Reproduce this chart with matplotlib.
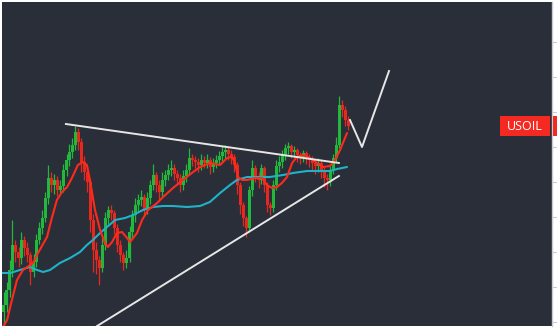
import matplotlib
matplotlib.use("Agg")
import matplotlib.pyplot as plt
import numpy as np
from matplotlib.patches import Rectangle
import matplotlib.transforms as mtransforms

# ---- data (price units) ----
closes = [17, 32, 52, 77, 70, 64, 82, 74, 67, 50, 60, 82, 94, 104, 124, 144, 137, 142, 132, 136,
          152, 162, 170, 177, 190, 180, 160, 150, 140, 102, 72, 62, 54, 77, 104, 112, 109, 94, 77, 67,
          59, 64, 90, 107, 117, 122, 125, 112, 124, 137, 147, 137, 130, 142, 147, 152, 154, 148, 144, 137,
          146, 152, 164, 162, 160, 157, 162, 159, 162, 155, 159, 162, 166, 170, 172, 168, 165, 157, 137, 117,
          104, 94, 132, 154, 146, 142, 154, 137, 117, 114, 137, 156, 160, 167, 174, 176, 170, 172, 167, 165,
          169, 165, 162, 159, 156, 159, 152, 144, 142, 152, 164, 177, 217, 212, 202, 196]
first_open = 10
highs = [30, 40, 62, 102, 82, 75, 90, 86, 80, 70, 68, 88, 100, 112, 130, 157, 150, 148, 146, 142,
         158, 168, 178, 184, 196, 194, 184, 166, 156, 144, 108, 80, 66, 84, 110, 116, 117, 112, 98, 82,
         70, 72, 96, 112, 124, 128, 132, 128, 130, 142, 158, 150, 142, 150, 152, 158, 162, 158, 152, 148,
         152, 158, 174, 168, 166, 164, 168, 166, 168, 165, 164, 167, 171, 176, 177, 175, 172, 168, 160, 140,
         120, 106, 136, 162, 157, 150, 158, 156, 140, 120, 142, 162, 166, 172, 178, 180, 178, 176, 174, 170,
         172, 171, 168, 166, 162, 164, 162, 155, 148, 156, 168, 185, 226, 222, 216, 206]
lows = [-5, 10, 25, 45, 60, 55, 58, 66, 60, 37, 45, 55, 78, 88, 100, 118, 130, 128, 126, 128,
        130, 146, 156, 164, 172, 172, 150, 142, 130, 90, 50, 48, 37, 50, 72, 98, 102, 88, 70, 60,
        52, 54, 60, 84, 100, 110, 116, 106, 108, 118, 132, 130, 122, 126, 136, 142, 146, 142, 138, 130,
        132, 140, 148, 156, 154, 150, 152, 154, 154, 148, 150, 154, 158, 160, 164, 162, 158, 150, 128, 108,
        96, 85, 90, 126, 140, 134, 138, 130, 110, 107, 110, 132, 150, 154, 162, 168, 164, 165, 160, 158,
        160, 158, 155, 152, 148, 150, 144, 135, 132, 136, 148, 160, 174, 205, 196, 192]

# fast moving average (red)
fast_ma_x = [-0.2, 1.2, 2.8, 4.5, 6.5, 9.8, 11.5, 14.5, 16.2, 17.8, 19.5, 21.2, 22.8, 24.8, 26.5, 27.8,
             28.8, 30.5, 32.2, 33.8, 34.8, 36.2, 37.8, 39.5, 41.2, 42.2, 44.5, 46.2, 48.2, 51.2, 53.2,
             56.5, 59.8, 63.2, 65.5, 68.8, 72.2, 74.5, 76.2, 77.2, 78.2, 79.5, 81.2, 83.8, 86.2, 87.8,
             89.5, 91.2, 92.8, 94.5, 96.2, 97.8, 99.8, 102.2, 104.5, 106.5, 108.8, 110.5, 112.2, 114.5]
fast_ma_v = [-5, 2, 22, 42, 52, 59, 69, 85, 105, 122, 130, 135, 144, 157, 160, 157,
             142, 112, 92, 79, 75, 80, 89, 90, 84, 80, 89, 102, 112, 119, 125,
             134, 142, 150, 155, 159, 157, 164, 165, 159, 145, 142, 142, 144, 144, 137,
             134, 135, 139, 145, 159, 165, 167, 164, 159, 155, 156, 162, 172, 189]

# slow moving average (cyan)
slow_ma_x = [-0.5, 2.2, 5.5, 8.8, 11.2, 13.2, 15.5, 18.8, 22.2, 25.5, 27.8, 29.8, 32.2, 34.5, 37.2,
             40.5, 43.2, 46.5, 49.8, 53.2, 56.5, 61.2, 65.5, 68.8, 72.2, 75.5, 77.8, 81.2, 85.5, 88.8,
             93.2, 96.5, 101.2, 105.5, 108.8, 111.2, 114.5]
slow_ma_v = [49, 49, 52, 55, 52, 50, 52, 59, 64, 70, 77, 82, 89, 95, 102,
             104, 107, 112, 115, 116, 116, 115, 116, 120, 129, 137, 142, 145, 145, 145,
             147, 149, 151, 151, 151, 153, 155]

# drawn trend lines and projection
resistance_x = [20.8, 111.8]
resistance_v = [198, 159]
support_x = [31.2, 111.8]
support_v = [-4, 146]
projection_x = [115.5, 119.5, 128.5]
projection_v = [202, 175, 251]

price_ticks = [0, 35, 70, 105, 140, 175, 210, 245, 280]
symbol = "USOIL"

# ---- figure ----
W, H = 557, 329
fig = plt.figure(figsize=(W / 100, H / 100), dpi=100, facecolor="white")
ax = fig.add_axes([2 / W, 3 / H, 550 / W, 324 / H])
bg = "#2a2e39"
ax.set_facecolor(bg)

closes_a = np.array(closes, dtype=float)
opens_a = np.concatenate([[first_open], closes_a[:-1]])
highs_a = np.maximum(np.array(highs, dtype=float), np.maximum(opens_a, closes_a))
lows_a = np.minimum(np.array(lows, dtype=float), np.minimum(opens_a, closes_a))
idx = np.arange(len(closes_a))
up = closes_a >= opens_a

green = "#22b83c"
red = "#e8281e"
cols = np.where(up, green, red)

ax.vlines(idx, lows_a, highs_a, colors=cols, linewidth=0.9, zorder=2)
body_bottom = np.minimum(opens_a, closes_a)
body_h = np.maximum(np.abs(closes_a - opens_a), 0.8)
ax.bar(idx, body_h, bottom=body_bottom, width=0.8, color=cols, linewidth=0, zorder=3)

ax.plot(slow_ma_x, slow_ma_v, color="#1fb2c8", linewidth=1.5, zorder=4, solid_capstyle="round")
ax.plot(fast_ma_x, fast_ma_v, color="#ff2a1a", linewidth=1.5, zorder=5, solid_capstyle="round")

line_c = "#e6e6e6"
ax.plot(resistance_x, resistance_v, color=line_c, linewidth=1.4, zorder=6)
ax.plot(support_x, support_v, color=line_c, linewidth=1.4, zorder=6)
ax.plot(projection_x, projection_v, color=line_c, linewidth=1.4, zorder=6)

ax.set_xlim(-0.5, -0.5 + 550 / 3)
ax.set_ylim(-4, 320)

# right price axis
for s in ("top", "left", "bottom"):
    ax.spines[s].set_visible(False)
ax.spines["right"].set_color("#c8cbd2")
ax.spines["right"].set_linewidth(1.0)
ax.yaxis.tick_right()
ax.set_yticks(price_ticks)
ax.tick_params(axis="y", length=4, width=0.8, color="#c8cbd2", labelright=False, right=True)
ax.set_xticks([])

# symbol label at last price
last = closes_a[-1]
trans = mtransforms.blended_transform_factory(ax.transAxes, ax.transData)
ax.add_patch(Rectangle((0.9055, last - 10), 0.0909, 20, transform=trans,
                       facecolor="#f42a22", edgecolor="none", zorder=8, clip_on=False))
ax.add_patch(Rectangle((1.0015, last - 10), 0.01, 20, transform=trans,
                       facecolor="#f42a22", edgecolor="none", zorder=8, clip_on=False))
ax.text(0.951, last, symbol, transform=trans, color="white", fontsize=9,
        family=["Open Sans", "DejaVu Sans"], ha="center", va="center", zorder=9)

fig.savefig("out.png", dpi=100, facecolor="white")
